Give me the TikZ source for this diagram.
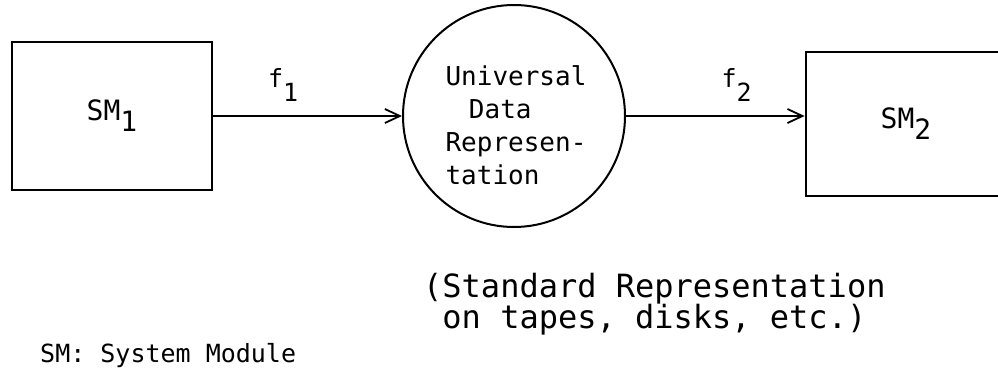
\documentclass[tikz,border=0pt]{standalone}
\usepackage{fontspec}
\setmonofont{DejaVu Sans Mono}
\usetikzlibrary{arrows.meta}

\newcommand{\lowsub}[2][11pt]{\raisebox{-#1}{#2}}

\begin{document}
\begin{tikzpicture}[x=1pt,y=-1pt,
  module/.style={draw, line width=2.8pt, minimum width=200pt, inner sep=0,
    font=\ttfamily\fontsize{28}{30}\selectfont},
  flow/.style={line width=1.8pt, -{Straight Barb[length=15pt,width=14pt,line width=1.8pt]}},
  fname/.style={font=\ttfamily\fontsize{25}{28}\selectfont, inner sep=0},
  remark/.style 2 args={font=\ttfamily\fontsize{#1}{#2}\selectfont, inner sep=0, align=left}]
\useasboundingbox (0,0) rectangle (998,381);
\node [module, minimum height=148pt] (sm1) at (112,116) {SM\lowsub{1}};
\node [module, minimum height=144pt] (sm2) at (906,124) {SM\lowsub{2}};
\node [draw, circle, line width=2pt, minimum size=222pt, inner sep=0] (udr) at (514,116) {};
\node [remark={26}{33}, text depth=0pt] (udrtext) at (516,125)
  {Universal\\\hspace*{0.9em}Data\\Represen-\\tation};
\draw [flow] (sm1.east) -- node [fname, pos=0.37, above=14pt] (f1) {f\lowsub[14pt]{1}} (udr.west);
\draw [flow] (udr.east) -- node [fname, pos=0.62, above=14pt] (f2) {f\lowsub[14pt]{2}} (udr.east -| sm2.west);
\node [remark={32}{31}, anchor=west] (storage) at (423,304)
  {(Standard Representation\\\phantom{(}on tapes, disks, etc.)};
\node [remark={25}{25}, anchor=base west] (legend) at (40,362) {SM: System Module};
\end{tikzpicture}
\end{document}
